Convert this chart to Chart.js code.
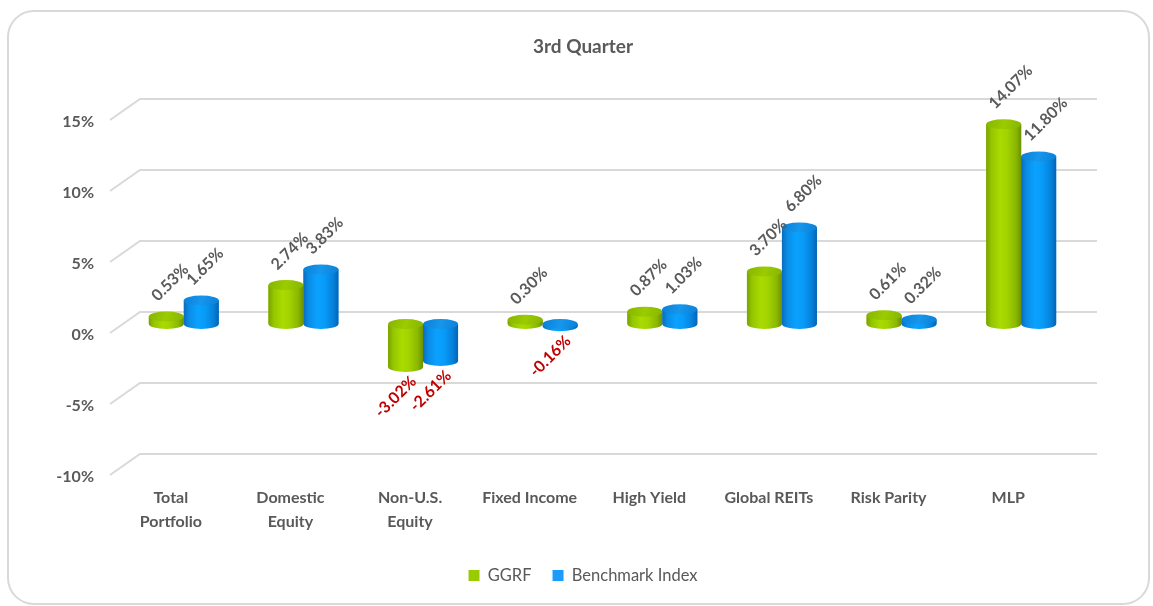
<!DOCTYPE html>
<html>
<head>
<meta charset="utf-8">
<script src="https://cdn.jsdelivr.net/npm/chart.js@4/dist/chart.umd.min.js"></script>
<style>
  html, body { margin: 0; padding: 0; background: #ffffff; }
  #wrap { width: 1153px; height: 606px; position: relative; }
</style>
</head>
<body>
<div id="wrap"><canvas id="c" width="1153" height="606"></canvas></div>
<script>
const categories = [['Total', 'Portfolio'], ['Domestic', 'Equity'], ['Non-U.S.', 'Equity'], 'Fixed Income', 'High Yield', 'Global REITs', 'Risk Parity', 'MLP'];
const ggrf = [0.53, 2.74, -3.02, 0.30, 0.87, 3.70, 0.61, 14.07];
const benchmark = [1.65, 3.83, -2.61, -0.16, 1.03, 6.80, 0.32, 11.80];
const seriesNames = ['GGRF', 'Benchmark Index'];
const yMin = -10, yMax = 15, yStep = 5;

const GRAY = '#595959';
const NEG = '#C00000';
const GRID = '#d9d9d9';

Chart.defaults.font.family = 'Lato';
Chart.defaults.color = GRAY;

const palettes = [
  { solid: '#99CC00', body: [[0, '#79a200'], [0.15, '#95c600'], [0.4, '#a9db00'], [0.6, '#a2d300'], [0.85, '#8ab700'], [1, '#6b9000']], capA: '#86b500', capB: '#9bcb00' },
  { solid: '#1A9CFF', body: [[0, '#0a6cbc'], [0.15, '#0a8ce6'], [0.4, '#0aa2ff'], [0.6, '#089bf8'], [0.85, '#0581db'], [1, '#0563b3']], capA: '#0a80d6', capB: '#1696ec' }
];

const shiftBlocks = {
  id: 'shiftBlocks',
  afterLayout(chart) {
    const d = 15;
    [chart.titleBlock, chart.legend].forEach(b => {
      if (b) { b.left += d; b.right += d; }
    });
  }
};

const frame = {
  id: 'frame',
  beforeDraw(chart) {
    const ctx = chart.ctx;
    ctx.save();
    ctx.fillStyle = '#ffffff';
    ctx.fillRect(0, 0, chart.width, chart.height);
    ctx.strokeStyle = GRID;
    ctx.lineWidth = 2;
    ctx.beginPath();
    ctx.roundRect(8, 11, 1141, 593, 26);
    ctx.stroke();
    // 3D gridlines: back wall + diagonal to front
    const ys = chart.scales.y;
    const ca = chart.chartArea;
    ys.ticks.forEach(t => {
      const yb = ys.getPixelForValue(t.value) - 12;
      const xl = ca.left + 16, xr = ca.right + 16;
      ctx.beginPath();
      ctx.moveTo(xl - 30, yb + 21);
      ctx.lineTo(xl, yb);
      ctx.lineTo(xr, yb);
      ctx.stroke();
    });
    ctx.restore();
  }
};

const cylinders = {
  id: 'cylinders',
  afterDatasetsDraw(chart) {
    const ctx = chart.ctx;
    ctx.save();
    chart.data.datasets.forEach((ds, di) => {
      const meta = chart.getDatasetMeta(di);
      const pal = palettes[di];
      meta.data.forEach((bar) => {
        const p = bar.getProps(['x', 'y', 'base', 'width'], true);
        const rx = p.width / 2, ry = 5;
        const left = p.x - rx, right = p.x + rx;
        const top = Math.min(p.y, p.base), bot = Math.max(p.y, p.base);
        const g = ctx.createLinearGradient(left, 0, right, 0);
        pal.body.forEach(s => g.addColorStop(s[0], s[1]));
        ctx.fillStyle = g;
        ctx.beginPath();
        ctx.moveTo(left, top);
        ctx.lineTo(left, bot);
        ctx.ellipse(p.x, bot, rx, ry, 0, Math.PI, 0, true);
        ctx.lineTo(right, top);
        ctx.closePath();
        ctx.fill();
        const cg = ctx.createLinearGradient(left, top - ry, right, top + ry);
        cg.addColorStop(0, pal.capA);
        cg.addColorStop(0.5, pal.capB);
        cg.addColorStop(1, pal.capA);
        ctx.fillStyle = cg;
        ctx.beginPath();
        ctx.ellipse(p.x, top, rx, ry, 0, 0, Math.PI * 2);
        ctx.fill();
      });
    });
    // data labels
    const ang = -45 * Math.PI / 180;
    ctx.font = 'bold 16px Lato';
    ctx.textBaseline = 'middle';
    chart.data.datasets.forEach((ds, di) => {
      const meta = chart.getDatasetMeta(di);
      meta.data.forEach((bar, i) => {
        const v = ds.data[i];
        const p = bar.getProps(['x', 'y', 'base'], true);
        const txt = v.toFixed(2) + '%';
        ctx.save();
        if (v >= 0) {
          const top = Math.min(p.y, p.base);
          ctx.translate(p.x - 12, top - 18);
          ctx.rotate(ang);
          ctx.textAlign = 'left';
          ctx.fillStyle = GRAY;
        } else {
          const bot = Math.max(p.y, p.base);
          ctx.translate(p.x + 8, bot + 12);
          ctx.rotate(ang);
          ctx.textAlign = 'right';
          ctx.fillStyle = NEG;
        }
        ctx.fillText(txt, 0, 0);
        ctx.restore();
      });
    });
    ctx.restore();
  }
};

new Chart(document.getElementById('c'), {
  type: 'bar',
  data: {
    labels: categories,
    datasets: [
      { label: seriesNames[0], data: ggrf, backgroundColor: palettes[0].solid, borderWidth: 0, categoryPercentage: 0.585, barPercentage: 1 },
      { label: seriesNames[1], data: benchmark, backgroundColor: palettes[1].solid, borderWidth: 0, categoryPercentage: 0.585, barPercentage: 1 }
    ]
  },
  options: {
    responsive: false,
    animation: false,
    devicePixelRatio: 1,
    layout: { padding: { left: 55, right: 72, top: 0, bottom: 12.25 } },
    plugins: {
      title: {
        display: true,
        text: '3rd Quarter',
        color: GRAY,
        font: { family: 'Lato', size: 19, weight: 'bold', lineHeight: 1.2 },
        padding: { top: 35, bottom: 53.2 }
      },
      legend: {
        position: 'bottom',
        labels: {
          boxWidth: 11,
          boxHeight: 11,
          padding: 21,
          color: GRAY,
          font: { family: 'Lato', size: 16.5 }
        }
      },
      tooltip: { enabled: false }
    },
    scales: {
      x: {
        grid: { display: false, drawTicks: false },
        border: { display: false },
        ticks: { color: GRAY, font: { family: 'Lato', size: 16, weight: 'bold', lineHeight: 1.5 }, padding: 20, labelOffset: -13, maxRotation: 0, autoSkip: false },
        afterFit(s) { s.height = 80.25; }
      },
      y: {
        min: yMin,
        max: yMax,
        grid: { display: false, drawTicks: false },
        border: { display: false },
        ticks: { stepSize: yStep, color: GRAY, font: { family: 'Lato', size: 16, weight: 'bold' }, padding: 30, labelOffset: 11, callback: v => v + '%' },
        afterFit(s) { s.width = 69; }
      }
    }
  },
  plugins: [shiftBlocks, frame, cylinders]
});
</script>
</body>
</html>
